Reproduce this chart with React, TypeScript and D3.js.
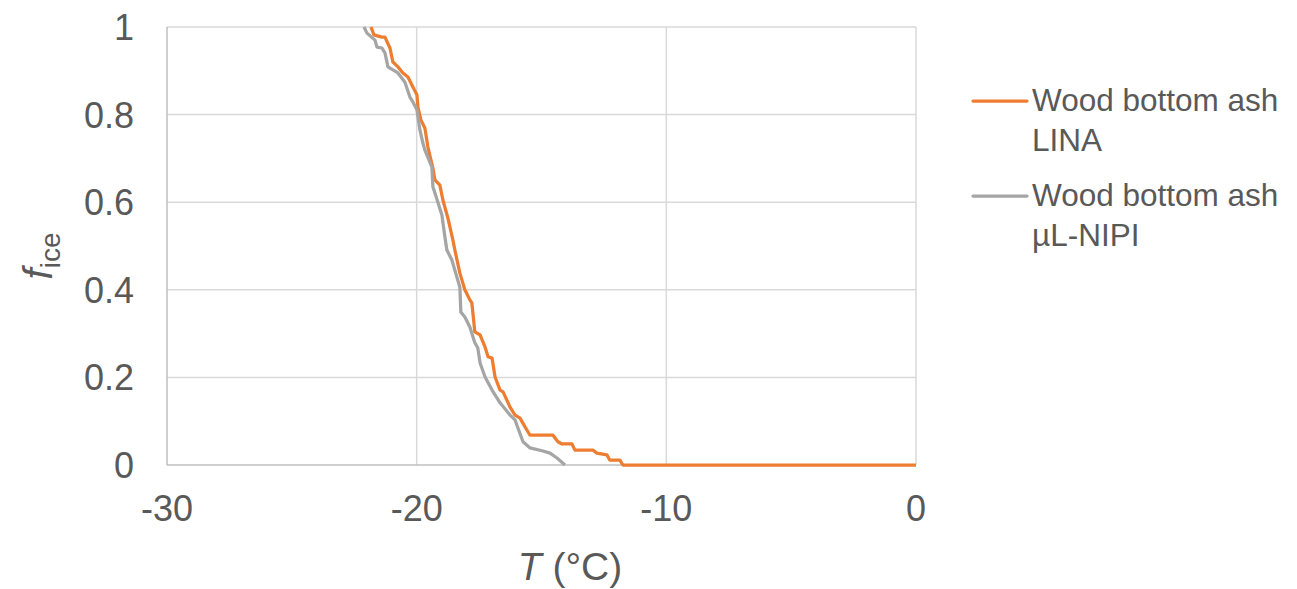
import React, { useEffect, useRef } from 'react'
import * as d3 from 'd3'

// LINA freezing curve: [T (°C), f_ice]
const linaT = [
	-21.83, -21.71, -21.39, -21.27, -21.07, -20.95, -20.75, -20.55, -20.35, -20.15, -19.99, -19.95,
	-19.83, -19.67, -19.55, -19.35, -19.27, -19.07, -18.95, -18.75, -18.55, -18.47, -18.27, -18.07,
	-17.87, -17.79, -17.67, -17.46, -17.26, -17.14, -16.98, -16.86, -16.66, -16.54, -16.26, -16.06,
	-15.86, -15.66, -15.46, -14.54, -14.34, -14.18, -13.78, -13.66, -12.94, -12.78, -12.38, -12.26,
	-11.86, -11.74, 0,
]
const linaF = [
	1.0, 0.982, 0.977, 0.977, 0.952, 0.92, 0.909, 0.895, 0.886, 0.863, 0.845, 0.817,
	0.788, 0.769, 0.726, 0.678, 0.651, 0.639, 0.605, 0.564, 0.514, 0.491, 0.438, 0.4,
	0.377, 0.37, 0.304, 0.297, 0.269, 0.247, 0.244, 0.201, 0.171, 0.167, 0.132, 0.114,
	0.107, 0.087, 0.068, 0.068, 0.053, 0.048, 0.048, 0.034, 0.034, 0.027, 0.023, 0.011,
	0.011, 0, 0,
]

// µL-NIPI freezing curve
const nipiT = [
	-22.11, -21.99, -21.67, -21.59, -21.39, -21.27, -21.15, -20.95, -20.75, -20.47, -20.27, -20.15,
	-19.99, -19.87, -19.75, -19.67, -19.39, -19.35, -19.15, -18.99, -18.87, -18.79, -18.59, -18.39,
	-18.27, -18.23, -18.07, -17.87, -17.67, -17.55, -17.46, -17.26, -16.98, -16.66, -16.26, -16.06,
	-15.94, -15.74, -15.46, -14.94, -14.66, -14.38, -14.06,
]
const nipiF = [
	1.0, 0.986, 0.97, 0.954, 0.952, 0.941, 0.909, 0.902, 0.895, 0.874, 0.84, 0.829,
	0.811, 0.765, 0.735, 0.719, 0.68, 0.635, 0.6, 0.571, 0.521, 0.491, 0.468, 0.429,
	0.406, 0.349, 0.338, 0.315, 0.279, 0.267, 0.233, 0.201, 0.171, 0.142, 0.114, 0.103,
	0.084, 0.053, 0.039, 0.032, 0.027, 0.016, 0,
]

const xTicks = [-30, -20, -10, 0]
const yTicks = [0, 0.2, 0.4, 0.6, 0.8, 1]

const series = [
	{ name: ['Wood bottom ash', 'LINA'], color: '#ED7D31', t: linaT, f: linaF },
	{ name: ['Wood bottom ash', 'µL-NIPI'], color: '#A5A5A5', t: nipiT, f: nipiF },
]

const font = '"Liberation Sans", Arial, sans-serif'
const textColor = '#595959'

export default function App() {
	const ref = useRef<SVGSVGElement>(null)

	useEffect(() => {
		const svg = d3.select(ref.current)
		svg.selectAll('*').remove()

		const x = d3.scaleLinear().domain([-30, 0]).range([167, 916])
		const y = d3.scaleLinear().domain([0, 1]).range([465, 27])

		// grid
		svg.append('g')
			.selectAll('line')
			.data(yTicks.filter(d => d > 0))
			.enter()
			.append('line')
			.attr('x1', x(-30))
			.attr('x2', x(0))
			.attr('y1', d => y(d))
			.attr('y2', d => y(d))
			.attr('stroke', '#D9D9D9')
			.attr('stroke-width', 1.5)

		svg.append('g')
			.selectAll('line')
			.data(xTicks.filter(d => d > -30))
			.enter()
			.append('line')
			.attr('x1', d => x(d))
			.attr('x2', d => x(d))
			.attr('y1', y(0))
			.attr('y2', y(1))
			.attr('stroke', '#D9D9D9')
			.attr('stroke-width', 1.5)

		// axis lines
		svg.append('line')
			.attr('x1', x(-30)).attr('x2', x(-30))
			.attr('y1', y(0)).attr('y2', y(1))
			.attr('stroke', '#BFBFBF').attr('stroke-width', 1.5)
		svg.append('line')
			.attr('x1', x(-30)).attr('x2', x(0))
			.attr('y1', y(0)).attr('y2', y(0))
			.attr('stroke', '#BFBFBF').attr('stroke-width', 1.5)

		// tick labels
		svg.append('g')
			.selectAll('text')
			.data(yTicks)
			.enter()
			.append('text')
			.attr('x', 134)
			.attr('y', d => y(d) + 13)
			.attr('text-anchor', 'end')
			.attr('font-family', font)
			.attr('font-size', 36)
			.attr('fill', textColor)
			.text(d => String(d))

		svg.append('g')
			.selectAll('text')
			.data(xTicks)
			.enter()
			.append('text')
			.attr('x', d => x(d))
			.attr('y', 521)
			.attr('text-anchor', 'middle')
			.attr('font-family', font)
			.attr('font-size', 36)
			.attr('fill', textColor)
			.text(d => String(d))

		// curves
		const line = d3.line<[number, number]>()
			.x(d => x(d[0]))
			.y(d => y(d[1]))

		series.forEach(s => {
			const pts = s.t.map((t, i) => [t, s.f[i]] as [number, number])
			svg.append('path')
				.datum(pts)
				.attr('d', line)
				.attr('fill', 'none')
				.attr('stroke', s.color)
				.attr('stroke-width', 3.25)
				.attr('stroke-linejoin', 'round')
		})

		// axis titles
		const xt = svg.append('text')
			.attr('x', 570)
			.attr('y', 580)
			.attr('text-anchor', 'middle')
			.attr('font-family', font)
			.attr('font-size', 39)
			.attr('fill', textColor)
		xt.append('tspan').attr('font-style', 'italic').text('T')
		xt.append('tspan').text(' (°C)')

		const yt = svg.append('text')
			.attr('transform', 'translate(52,256) rotate(-90)')
			.attr('text-anchor', 'middle')
			.attr('font-family', font)
			.attr('fill', textColor)
		yt.append('tspan').attr('font-size', 40).attr('font-style', 'italic').text('f')
		yt.append('tspan').attr('font-size', 28).attr('dy', 8).text('ice')

		// legend
		series.forEach((s, i) => {
			const ly = 101 + i * 95
			svg.append('line')
				.attr('x1', 973).attr('x2', 1027)
				.attr('y1', ly).attr('y2', ly)
				.attr('stroke', s.color)
				.attr('stroke-width', 3.25)
				.attr('stroke-linecap', 'round')
			s.name.forEach((n, j) => {
				svg.append('text')
					.attr('x', 1032)
					.attr('y', ly + 10 + j * 40)
					.attr('font-family', font)
					.attr('font-size', 31.5)
					.attr('fill', textColor)
					.text(n)
			})
		})
	}, [])

	return (
		<svg
			ref={ref}
			width={1297}
			height={589}
			style={{ position: 'absolute', left: 0, top: 0, background: '#fff' }}
		></svg>
	)
}
